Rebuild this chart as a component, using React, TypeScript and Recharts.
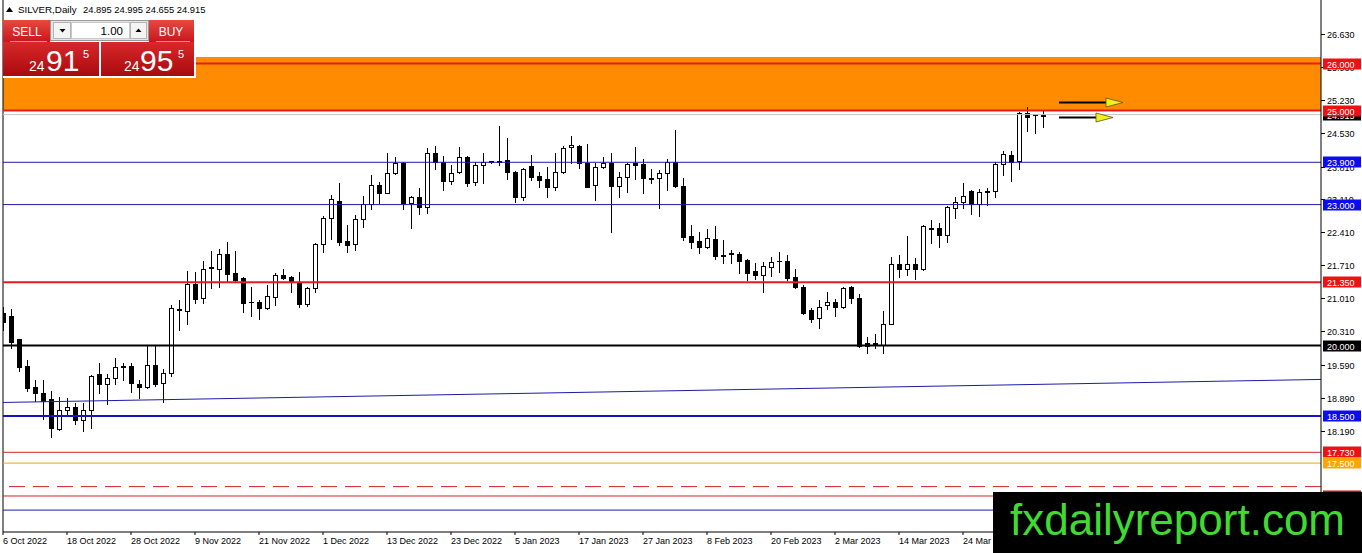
import React from "react";
import { ComposedChart, Bar, XAxis, YAxis, ReferenceLine, ReferenceArea } from "recharts";

const FONT = "'Liberation Sans', Arial, sans-serif";

// ---- candle data (daily, 6 Oct 2022 onwards) ----
const opens = [20.69,20.62,20.13,19.57,19.11,18.99,18.86,18.22,18.62,18.69,
 18.42,18.63,19.39,19.18,19.30,19.56,19.57,19.18,19.11,19.58,
 19.20,19.41,20.77,20.74,21.31,21.01,21.65,21.64,21.94,21.54,
 21.43,20.93,20.92,20.79,21.04,21.50,21.47,21.34,20.89,21.22,
 22.16,22.71,23.08,22.23,22.16,22.69,23.01,23.42,23.25,23.68,
 23.89,23.03,23.17,22.94,24.09,23.91,23.51,23.69,24.01,23.49,
 23.84,23.92,23.93,23.94,23.70,23.17,23.82,23.61,23.54,23.37,
 23.70,24.22,24.25,23.89,23.42,23.80,23.89,23.40,23.59,23.89,
 23.86,23.57,23.56,23.67,23.91,23.40,22.33,22.23,22.10,22.26,
 21.92,21.96,21.95,21.82,21.59,21.50,21.68,21.79,21.79,21.47,
 21.25,20.76,20.58,20.86,20.93,20.83,21.24,21.01,20.05,20.04,
 20.01,20.47,21.73,21.64,21.73,21.64,22.50,22.51,22.35,22.92,
 23.05,23.28,23.01,23.27,23.28,23.86,24.06,23.93,24.94,24.92,
 24.895];
const highs = [20.83,20.77,20.13,19.69,19.27,19.27,19.04,18.91,18.88,18.78,
 18.78,19.38,19.62,19.39,19.73,19.62,19.62,19.27,20.01,20.01,
 19.50,20.86,20.97,21.58,21.57,21.79,22.01,22.06,22.20,22.01,
 21.45,21.25,20.97,21.29,21.54,21.63,21.49,21.57,21.24,22.18,
 22.76,23.20,23.47,22.57,22.78,23.18,23.63,23.49,24.09,24.01,
 23.91,23.19,23.35,24.20,24.25,24.03,23.84,24.22,24.03,23.91,
 24.09,23.93,24.68,24.41,23.72,23.77,24.06,23.70,23.81,24.10,
 24.25,24.46,24.27,24.29,23.88,24.01,24.09,23.70,23.89,24.23,
 23.96,23.75,23.74,23.98,24.59,23.56,22.56,22.42,22.48,22.54,
 22.25,22.03,22.00,21.84,21.75,21.78,21.88,22.00,21.93,21.64,
 21.29,20.79,20.97,21.13,21.00,21.24,21.27,21.10,20.19,20.25,
 20.74,21.89,21.93,22.33,21.86,22.56,22.67,22.60,22.96,23.17,
 23.45,23.30,23.33,23.36,23.91,24.13,24.13,24.96,25.08,24.93,
 24.995];
const lows = [20.33,19.95,19.47,19.03,18.83,18.43,18.06,18.20,18.52,18.33,
 18.19,18.24,18.99,18.75,19.18,19.27,19.02,18.88,19.09,19.14,
 18.80,19.36,20.33,20.45,20.91,20.91,21.23,21.25,21.36,21.38,
 20.72,20.62,20.56,20.77,20.86,21.41,21.13,20.83,20.85,21.15,
 22.00,22.26,22.13,22.00,22.03,22.52,22.90,23.04,23.24,23.66,
 22.90,22.50,22.80,22.83,23.75,23.31,23.44,23.67,23.40,23.42,
 23.47,23.89,23.84,23.54,23.06,23.10,23.52,23.38,23.16,23.31,
 23.68,23.88,23.77,23.37,23.10,23.78,22.42,23.16,23.27,23.54,
 23.24,23.45,22.92,23.31,23.38,22.24,22.08,21.98,22.08,21.84,
 21.76,21.75,21.55,21.40,21.41,21.13,21.49,21.57,21.40,21.22,
 20.67,20.51,20.37,20.77,20.62,20.79,20.91,19.96,19.85,19.94,
 19.85,20.45,21.45,21.50,21.41,21.61,22.18,22.10,22.21,22.71,
 22.92,22.79,22.76,22.99,23.17,23.63,23.50,23.76,24.57,24.52,
 24.655];
const closes = [20.51,20.08,19.55,19.09,18.99,18.83,18.24,18.62,18.69,18.42,
 18.63,19.36,19.18,19.30,19.54,19.54,19.21,19.11,19.58,19.18,
 19.42,20.81,20.75,21.31,21.00,21.62,21.68,21.94,21.52,21.40,
 20.91,20.92,20.81,21.06,21.50,21.44,21.38,20.89,21.22,22.16,
 22.71,23.11,22.21,22.13,22.69,23.01,23.42,23.25,23.67,23.88,
 23.04,23.17,22.94,24.09,23.91,23.51,23.67,24.01,23.47,23.84,
 23.91,23.90,23.91,23.70,23.17,23.75,23.59,23.52,23.37,23.70,
 24.20,24.27,23.89,23.38,23.80,23.89,23.40,23.59,23.86,23.84,
 23.56,23.55,23.67,23.91,23.40,22.31,22.21,22.10,22.28,21.90,
 21.91,21.95,21.81,21.55,21.50,21.69,21.77,21.81,21.43,21.25,
 20.69,20.56,20.83,20.93,20.83,21.22,21.01,20.00,19.99,20.05,
 20.47,21.73,21.64,21.73,21.64,22.54,22.49,22.35,22.94,23.05,
 23.18,23.01,23.26,23.28,23.86,24.07,23.91,24.94,24.87,24.91,
 24.915];

// ---- axes ----
const xTickIndex = [0, 8, 16, 24, 32, 40, 48, 56, 64, 72, 80, 88, 96, 104, 112, 120];
const xTickLabels = ["6 Oct 2022", "18 Oct 2022", "28 Oct 2022", "9 Nov 2022", "21 Nov 2022", "1 Dec 2022",
  "13 Dec 2022", "23 Dec 2022", "5 Jan 2023", "17 Jan 2023", "27 Jan 2023", "8 Feb 2023", "20 Feb 2023",
  "2 Mar 2023", "14 Mar 2023", "24 Mar 2023"];
const xDomain = [0, 164.75];
const yTicks = [26.63, 25.93, 25.23, 24.53, 23.81, 23.11, 22.41, 21.71, 21.01, 20.31, 19.59, 18.89, 18.19];
const yDomain = [16.034, 27.353];

// ---- drawn objects ----
const levelPrices = [24.915, 26.0, 25.0, 23.9, 23.0, 21.35, 20.0, 18.5, 17.73, 17.5, 17.0, 16.8, 16.5];
const zoneLow = 25.0;
const zoneHigh = 26.14;
const trendIdx = [0, 164.75];
const trendPrices = [18.79, 19.28];
const arrowFrom = [132, 132];
const arrowTo = [140, 138.75];
const arrowPrices = [25.18, 24.86];

// ---- header / trade panel ----
const symbolName = "SILVER,Daily";
const headerOHLC = [24.895, 24.995, 24.655, 24.915];
const lotSize = 1.0;
const bidPrice = 24.915;
const askPrice = 24.955;

// styles for each level (aligned with levelPrices)
const LEVEL_STYLE = [
  { stroke: "#c4c4c4", w: 1, label: "#000000" },
  { stroke: "#e41c1c", w: 2, label: "#ee1111" },
  { stroke: "#e41c1c", w: 2, label: "#ee1111" },
  { stroke: "#1c1ca8", w: 1, label: "#0c0cf0" },
  { stroke: "#1c1ca8", w: 1, label: "#0c0cf0" },
  { stroke: "#e41c1c", w: 2, label: "#ee1111" },
  { stroke: "#000000", w: 2, label: "#000000" },
  { stroke: "#1414c0", w: 2, label: "#0c0cf0" },
  { stroke: "#d42424", w: 1, label: "#ee1111" },
  { stroke: "#f0a800", w: 1, label: "#ffa500" },
  { stroke: "#d42424", w: 1, label: null, dash: "16 8" },
  { stroke: "#d42424", w: 1, label: "#cc1111" },
  { stroke: "#1c1ca8", w: 1, label: null },
];

const data = opens.map((o, i) => ({ i, o, h: highs[i], l: lows[i], c: closes[i] }));

const Candle = (props: any) => {
  const { x, y, width, height, payload } = props;
  if (x == null || y == null || !payload) return null;
  const top = Math.min(y, y + height);
  const bot = Math.max(y, y + height);
  const range = payload.h - payload.l;
  const toY = (v: number) => (range > 0 ? top + ((payload.h - v) / range) * (bot - top) : top);
  const cx = Math.round(x + width / 2) + 0.5;
  const yo = toY(payload.o);
  const yc = toY(payload.c);
  const bTop = Math.round(Math.min(yo, yc)) + 0.5;
  const bBot = Math.round(Math.max(yo, yc)) + 0.5;
  const bull = payload.c >= payload.o;
  return (
    <g>
      <line x1={cx} x2={cx} y1={Math.round(top)} y2={Math.round(bot) + 1} stroke="#000" strokeWidth={1} />
      {bBot - bTop < 1 ? (
        <line x1={cx - 2.5} x2={cx + 2.5} y1={bTop} y2={bTop} stroke="#000" strokeWidth={1} />
      ) : (
        <rect x={cx - 2} y={bTop} width={4} height={bBot - bTop} fill={bull ? "#fff" : "#000"} stroke="#000" strokeWidth={1} />
      )}
    </g>
  );
};

// price box on the right scale for a level line
const makeLabel = (text: string, bg: string) => (props: any) => {
  const vb = props.viewBox || {};
  const x = (vb.x ?? 0) + (vb.width ?? 0) + 2;
  const y = Math.round(vb.y ?? 0);
  return (
    <g>
      <rect x={x} y={y - 5.5} width={38} height={11} fill={bg} />
      <text x={x + 4} y={y + 3.5} fontSize={9} fill="#fff" fontFamily={FONT}>{text}</text>
    </g>
  );
};

// scale tick (mark + text) drawn at the right edge of the plot
const makeTick = (text: string) => (props: any) => {
  const vb = props.viewBox || {};
  const x = (vb.x ?? 0) + (vb.width ?? 0);
  const y = Math.round(vb.y ?? 0) + 0.5;
  return (
    <g>
      <line x1={x} x2={x + 4} y1={y} y2={y} stroke="#000" strokeWidth={1} />
      <text x={x + 6} y={y + 3} fontSize={9} fill="#000" fontFamily={FONT}>{text}</text>
    </g>
  );
};

const arrowShape = (p: any) => {
  const { x1, y1, x2 } = p;
  if (x1 == null || y1 == null) return null;
  const y = Math.round(y1) + 0.5;
  const head = 17;
  return (
    <g>
      <line x1={x1} y1={y} x2={x2 - head + 1} y2={y} stroke="#000" strokeWidth={2} />
      <polygon points={`${x2 - head},${y - 4.5} ${x2},${y} ${x2 - head},${y + 4.5}`} fill="#f4ef1e" stroke="#55551e" strokeWidth={0.8} />
    </g>
  );
};

const XTick = (props: any) => {
  const { x, y, payload } = props;
  const k = xTickIndex.indexOf(payload.value);
  return (
    <text x={x} y={y + 7} fontSize={9} fill="#000" fontFamily={FONT} textAnchor="start">
      {k >= 0 ? xTickLabels[k] : ""}
    </text>
  );
};

const split = (p: number) => {
  const s = p.toFixed(3);
  return [s.slice(0, 2), s.slice(3, 5), s.slice(5)];
};

export default function App() {
  const bid = split(bidPrice);
  const ask = split(askPrice);
  return (
    <div style={{ position: "absolute", left: 0, top: 0, width: 1362, height: 553, background: "#fff", overflow: "hidden" }}>
      <ComposedChart width={1362} height={553} data={data} margin={{ top: 0, right: 0, bottom: 0, left: 3 }}>
        <XAxis
          dataKey="i"
          type="number"
          domain={xDomain}
          allowDataOverflow
          ticks={xTickIndex}
          interval={0}
          height={21}
          tickSize={3}
          tickMargin={2}
          axisLine={{ stroke: "#000" }}
          tickLine={{ stroke: "#000" }}
          tick={<XTick />}
        />
        <YAxis
          orientation="right"
          type="number"
          domain={yDomain}
          allowDataOverflow
          ticks={yTicks}
          interval={0}
          width={41}
          axisLine={{ stroke: "#000" }}
          tickLine={false}
          tick={false}
        />
        <ReferenceArea y1={zoneLow} y2={zoneHigh} fill="#ff8c00" fillOpacity={1} stroke="none" />
        <ReferenceLine x={xDomain[0]} stroke="#000" strokeWidth={1} />
        {yTicks.map((t) => (
          <ReferenceLine key={"tk" + t} y={t} stroke="none" label={makeTick(t.toFixed(3))} />
        ))}
        <Bar dataKey={(d: any) => [d.l, d.h]} shape={(p: any) => <Candle {...p} />} barSize={5} isAnimationActive={false} />
        <ReferenceLine
          segment={[{ x: trendIdx[0], y: trendPrices[0] }, { x: trendIdx[1], y: trendPrices[1] }]}
          stroke="#1c1ca8"
          strokeWidth={1}
        />
        {levelPrices.map((p, k) => {
          const st: any = LEVEL_STYLE[k];
          return (
            <ReferenceLine
              key={"lv" + k}
              y={p}
              stroke={st.stroke}
              strokeWidth={st.w}
              strokeDasharray={st.dash}
              label={st.label ? makeLabel(p.toFixed(3), st.label) : undefined}
            />
          );
        })}
        {arrowPrices.map((p, k) => (
          <ReferenceLine
            key={"ar" + k}
            segment={[{ x: arrowFrom[k], y: p }, { x: arrowTo[k], y: p }]}
            shape={arrowShape}
          />
        ))}
      </ComposedChart>

      <svg width={1362} height={553} style={{ position: "absolute", left: 0, top: 0, pointerEvents: "none" }} fontFamily={FONT}>
        <defs>
          <linearGradient id="btnRed" x1="0" y1="0" x2="0" y2="1">
            <stop offset="0" stopColor="#e8493f" />
            <stop offset="1" stopColor="#c8161c" />
          </linearGradient>
          <linearGradient id="bigRed" x1="0" y1="0" x2="0" y2="1">
            <stop offset="0" stopColor="#d8282a" />
            <stop offset="1" stopColor="#a90a0e" />
          </linearGradient>
        </defs>
        {/* header */}
        <polygon points="6,12 9.5,7 13,12" fill="#000" />
        <text x={18} y={13} fontSize={9.8} fill="#000">{symbolName}</text>
        <text x={83} y={13} fontSize={9.4} fill="#000">{headerOHLC.map((v) => v.toFixed(3)).join(" ")}</text>

        {/* trade panel top row */}
        <rect x={3} y={20} width={47} height={22} fill="url(#btnRed)" />
        <text x={27} y={35.5} fontSize={12} fill="#fff" textAnchor="middle">SELL</text>
        <line x1={10} x2={47} y1={41.5} y2={41.5} stroke="#f08a8a" strokeWidth={1} />
        <rect x={50.5} y={20.5} width={98} height={20} fill="#e4e4e4" stroke="#9a9a9a" />
        <rect x={53.5} y={22.5} width={17} height={16} fill="#f4f4f4" stroke="#b4b4b4" />
        <polygon points="59.5,29 65.5,29 62.5,32.5" fill="#000" />
        <rect x={71.5} y={22.5} width={58} height={16} fill="#fff" stroke="#c8c8c8" />
        <text x={123} y={35} fontSize={11.5} fill="#000" textAnchor="end">{lotSize.toFixed(2)}</text>
        <rect x={130.5} y={22.5} width={16} height={16} fill="#f4f4f4" stroke="#b4b4b4" />
        <polygon points="135.5,32 141.5,32 138.5,28.5" fill="#000" />
        <rect x={149} y={20} width={45} height={22} fill="url(#btnRed)" />
        <text x={171} y={35.5} fontSize={12} fill="#fff" textAnchor="middle">BUY</text>
        <line x1={156} x2={190} y1={41.5} y2={41.5} stroke="#f08a8a" strokeWidth={1} />

        {/* trade panel prices */}
        <rect x={3} y={42} width={96} height={34} fill="url(#bigRed)" />
        <rect x={101} y={42} width={93} height={34} fill="url(#bigRed)" />
        <line x1={100} x2={100} y1={42} y2={77} stroke="#fff" strokeWidth={2} />
        <line x1={3} x2={195} y1={77} y2={77} stroke="#fff" strokeWidth={2} />
        <line x1={195} x2={195} y1={20} y2={78} stroke="#fff" strokeWidth={2} />
        <text x={29} y={71} fontSize={14} fill="#fff">{bid[0]}</text>
        <text x={46} y={71} fontSize={30} fill="#fff">{bid[1]}</text>
        <text x={83} y={57.5} fontSize={11} fill="#fff">{bid[2]}</text>
        <text x={124} y={71} fontSize={14} fill="#fff">{ask[0]}</text>
        <text x={140} y={71} fontSize={30} fill="#fff">{ask[1]}</text>
        <text x={178} y={57.5} fontSize={11} fill="#fff">{ask[2]}</text>

        {/* watermark */}
        <rect x={993} y={492} width={369} height={61} fill="#000" />
        <text x={1010} y={535} fontSize={44} fill="#3fdc2f">fxdailyreport.com</text>
      </svg>
    </div>
  );
}
